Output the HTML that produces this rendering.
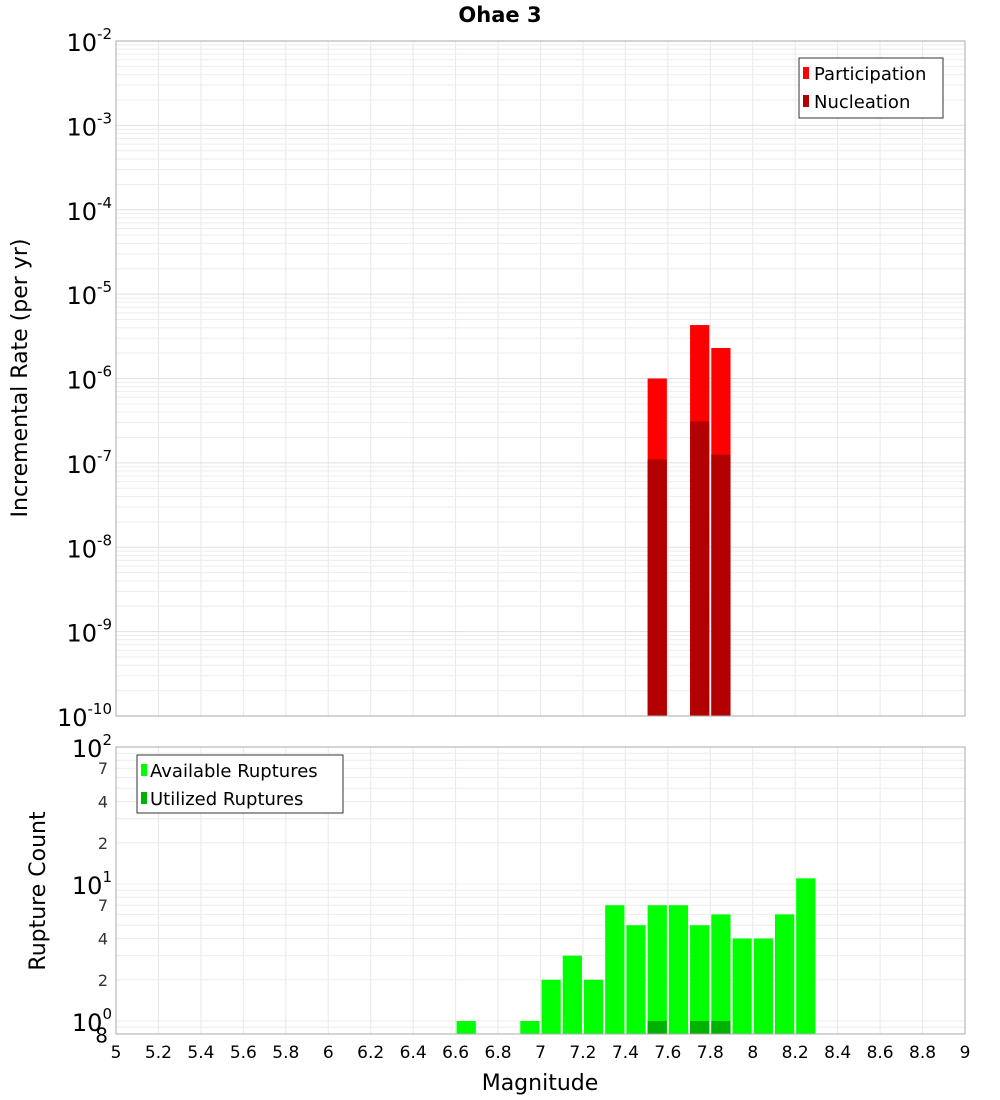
<!DOCTYPE html>
<html><head><meta charset="utf-8"><style>
body{margin:0;background:#fff;}
svg{display:block;font-family:"DejaVu Sans","Liberation Sans",sans-serif;}
</style></head><body>
<svg id="c" width="1000" height="1100" xmlns="http://www.w3.org/2000/svg"></svg>
<script>
const magBins = [7.55, 7.75, 7.85];
const participation = [1.0e-6, 4.3e-6, 2.3e-6];
const nucleation = [1.1e-7, 3.1e-7, 1.25e-7];
const countBins = [6.65, 6.95, 7.05, 7.15, 7.25, 7.35, 7.45, 7.55, 7.65, 7.75, 7.85, 7.95, 8.05, 8.15, 8.25];
const available = [1, 1, 2, 3, 2, 7, 5, 7, 7, 5, 6, 4, 4, 6, 11];
const utilizedBins = [7.55, 7.75, 7.85];
const utilized = [1, 1, 1];
const xTicks = [5,5.2,5.4,5.6,5.8,6,6.2,6.4,6.6,6.8,7,7.2,7.4,7.6,7.8,8,8.2,8.4,8.6,8.8,9];
const xTickLabels = ["5","5.2","5.4","5.6","5.8","6","6.2","6.4","6.6","6.8","7","7.2","7.4","7.6","7.8","8","8.2","8.4","8.6","8.8","9"];
const topExps = [-2,-3,-4,-5,-6,-7,-8,-9,-10];
const botMinor = [[2,"2"],[4,"4"],[7,"7"],[20,"2"],[40,"4"],[70,"7"]];

const svg = document.getElementById('c');
const NS = 'http://www.w3.org/2000/svg';
function mk(tag, attrs, parent){const e=document.createElementNS(NS,tag);for(const k in attrs)e.setAttribute(k,attrs[k]);(parent||svg).appendChild(e);return e;}

const X0=116, X1=965;
const xs = m => X0 + (m-5)/(9-5)*(X1-X0);
const T0=41, T1=716;
const yTop = v => T0 + (-2 - Math.log10(v))/8*(T1-T0);
const B0=747, B1=1034;
const bDec = 137;
const yBot = v => B0 + (2 - Math.log10(v))*bDec;
const BW = xs(5.1)-xs(5) - 2;

// Title
let t=mk('text',{x:500,y:22,'text-anchor':'middle','font-size':21,'font-weight':'bold'});
t.textContent='Ohae 3';



// Plot frames backgrounds
let g;
// TOP grid
g=mk('g',{});


for(const m of xTicks){mk('line',{x1:xs(m),x2:xs(m),y1:T0,y2:T1,stroke:'#e8e8e8'},g);}
for(let e=-10;e<-2;e++){for(let k=1;k<10;k++){const y=yTop(k*Math.pow(10,e));mk('line',{x1:X0,x2:X1,y1:y,y2:y,stroke:k==1?'#e0e0e0':'#ededed'},g);}}
// top bars
magBins.forEach((m,i)=>{
  let r=mk('rect',{x:xs(m)-BW/2,y:yTop(participation[i]),width:BW,height:T1-yTop(participation[i]),fill:'#ff0000'});
  
  
});
magBins.forEach((m,i)=>{
  let r=mk('rect',{x:xs(m)-BW/2,y:yTop(nucleation[i]),width:BW,height:T1-yTop(nucleation[i]),fill:'#b20000'});
  
  
});
let f=mk('rect',{x:X0,y:T0,width:X1-X0,height:T1-T0,fill:'none',stroke:'#aaa'});


// top y ticks
topExps.forEach(e=>{
  const y=yTop(Math.pow(10,e));
  let tx=mk('text',{x:112,y:y+10,'text-anchor':'end','font-size':24});
  
  
  tx.innerHTML='10<tspan dy="-12" font-size="15">'+e+'</tspan>';
});
let yt=mk('text',{x:0,y:0,transform:'translate(27,378) rotate(-90)','text-anchor':'middle','font-size':22});
yt.textContent='Incremental Rate (per yr)';


// top legend
g=mk('g',{});


mk('rect',{x:799,y:58,width:144,height:60,fill:'#fff',stroke:'#333'},g);
mk('rect',{x:803,y:67,width:6,height:12,fill:'#ff0000'},g);
mk('rect',{x:803,y:95,width:6,height:12,fill:'#b20000'},g);
let l1=mk('text',{x:814,y:80,'font-size':18},g);l1.textContent='Participation';


let l2=mk('text',{x:814,y:108,'font-size':18},g);l2.textContent='Nucleation';



// BOTTOM grid
g=mk('g',{});


for(const m of xTicks){mk('line',{x1:xs(m),x2:xs(m),y1:B0,y2:B1,stroke:'#e8e8e8'},g);}
for(let e=-1;e<2;e++){for(let k=1;k<10;k++){const v=k*Math.pow(10,e);const y=yBot(v);if(y<B0||y>B1)continue;mk('line',{x1:X0,x2:X1,y1:y,y2:y,stroke:'#ececec'},g);}}
countBins.forEach((m,i)=>{
  const y=yBot(available[i]);
  let r=mk('rect',{x:xs(m)-BW/2,y:y,width:BW,height:B1-y,fill:'#00ff00'});
  
  
});
utilizedBins.forEach((m,i)=>{
  const y=yBot(utilized[i]);
  let r=mk('rect',{x:xs(m)-BW/2,y:y,width:BW,height:B1-y,fill:'#00b200'});
  
  
});
f=mk('rect',{x:X0,y:B0,width:X1-X0,height:B1-B0,fill:'none',stroke:'#aaa'});


[2,1,0].forEach(e=>{
  const y=yBot(Math.pow(10,e));
  let tx=mk('text',{x:112,y:y+10,'text-anchor':'end','font-size':24});
  
  
  tx.innerHTML='10<tspan dy="-12" font-size="15">'+e+'</tspan>';
});
botMinor.forEach(([v,s])=>{
  const y=yBot(v);
  let tx=mk('text',{x:108,y:y+6,'text-anchor':'end','font-size':16,fill:'#333'});
  tx.textContent=s;
  
  
});
let e8=mk('text',{x:108,y:yBot(0.8)+8,'text-anchor':'end','font-size':20});e8.textContent='8';


let yb=mk('text',{x:0,y:0,transform:'translate(45,891) rotate(-90)','text-anchor':'middle','font-size':22});
yb.textContent='Rupture Count';


// bottom legend
g=mk('g',{});


mk('rect',{x:137,y:755,width:206,height:58,fill:'#fff',stroke:'#333'},g);
mk('rect',{x:141,y:764,width:6,height:12,fill:'#00ff00'},g);
mk('rect',{x:141,y:792,width:6,height:12,fill:'#00b200'},g);
let l3=mk('text',{x:150,y:777,'font-size':18},g);l3.textContent='Available Ruptures';


let l4=mk('text',{x:150,y:805,'font-size':18},g);l4.textContent='Utilized Ruptures';


// x ticks
xTicks.forEach((m,i)=>{
  let tx=mk('text',{x:xs(m),y:1058,'text-anchor':'middle','font-size':17});
  tx.textContent=xTickLabels[i];
  
  
});
let xt=mk('text',{x:540,y:1090,'text-anchor':'middle','font-size':22});
xt.textContent='Magnitude';


</script>
</body></html>
